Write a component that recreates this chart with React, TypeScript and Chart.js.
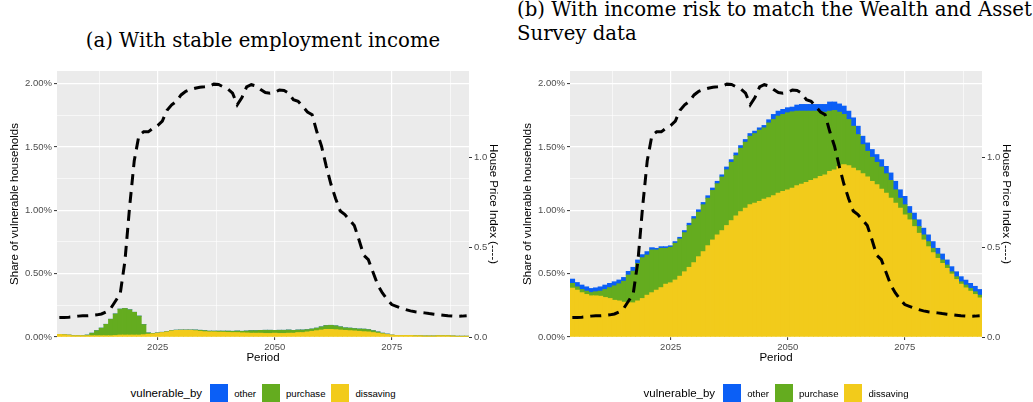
import React, { useEffect, useRef } from 'react';
import { Chart, registerables } from 'chart.js';

Chart.register(...registerables);

// ---------- data ----------
const years = [
  2004, 2005, 2006, 2007, 2008, 2009, 2010, 2011, 2012, 2013, 2014, 2015, 2016, 2017, 2018, 2019, 2020, 2021, 2022, 2023, 2024, 2025,
  2026, 2027, 2028, 2029, 2030, 2031, 2032, 2033, 2034, 2035, 2036, 2037, 2038, 2039, 2040, 2041, 2042, 2043, 2044, 2045, 2046, 2047,
  2048, 2049, 2050, 2051, 2052, 2053, 2054, 2055, 2056, 2057, 2058, 2059, 2060, 2061, 2062, 2063, 2064, 2065, 2066, 2067, 2068, 2069,
  2070, 2071, 2072, 2073, 2074, 2075, 2076, 2077, 2078, 2079, 2080, 2081, 2082, 2083, 2084, 2085, 2086, 2087, 2088, 2089, 2090, 2091,
];

// House price index (secondary axis), same in both panels
const housePriceIndex = [
  0.108, 0.109, 0.110, 0.112, 0.116, 0.118, 0.118, 0.120, 0.123, 0.128, 0.140, 0.160, 0.200, 0.240, 0.420, 0.720, 0.980, 1.120, 1.140, 1.140, 1.160, 1.175,
  1.200, 1.260, 1.290, 1.310, 1.345, 1.365, 1.375, 1.382, 1.388, 1.390, 1.393, 1.405, 1.403, 1.390, 1.378, 1.355, 1.290, 1.330, 1.390, 1.402, 1.395, 1.375,
  1.358, 1.355, 1.360, 1.372, 1.370, 1.355, 1.318, 1.310, 1.280, 1.250, 1.235, 1.140, 1.060, 0.950, 0.850, 0.770, 0.700, 0.680, 0.650, 0.620, 0.540, 0.455,
  0.430, 0.360, 0.290, 0.245, 0.210, 0.180, 0.170, 0.160, 0.152, 0.145, 0.140, 0.137, 0.134, 0.130, 0.127, 0.124, 0.121, 0.118, 0.116, 0.115, 0.116, 0.118,
];

// Panel (a): with stable employment income (share of households, %)
const dissavingA = [
  0.020, 0.018, 0.015, 0.010, 0.010, 0.010, 0.010, 0.010, 0.010, 0.010, 0.010, 0.010, 0.012, 0.015, 0.015, 0.015, 0.015, 0.015, 0.018, 0.022, 0.025, 0.030,
  0.035, 0.040, 0.048, 0.052, 0.053, 0.053, 0.053, 0.050, 0.045, 0.042, 0.040, 0.040, 0.038, 0.038, 0.036, 0.035, 0.035, 0.033, 0.032, 0.030, 0.030, 0.030,
  0.028, 0.028, 0.030, 0.028, 0.028, 0.030, 0.030, 0.035, 0.035, 0.040, 0.045, 0.050, 0.055, 0.060, 0.060, 0.058, 0.055, 0.052, 0.050, 0.048, 0.045, 0.042,
  0.040, 0.035, 0.030, 0.025, 0.020, 0.015, 0.012, 0.012, 0.012, 0.012, 0.010, 0.010, 0.008, 0.008, 0.008, 0.010, 0.010, 0.010, 0.008, 0.006, 0.006, 0.006,
];
const purchaseA = [
  0, 0, 0, 0, 0, 0, 0.005, 0.020, 0.040, 0.060, 0.090, 0.130, 0.170, 0.205, 0.210, 0.200, 0.180, 0.150, 0.080, 0.010, 0.003, 0.002,
  0.002, 0.002, 0.002, 0.002, 0.002, 0.002, 0.002, 0.005, 0.008, 0.008, 0.006, 0.006, 0.008, 0.008, 0.010, 0.010, 0.012, 0.012, 0.015, 0.020, 0.020, 0.022,
  0.025, 0.025, 0.022, 0.025, 0.025, 0.025, 0.022, 0.020, 0.020, 0.018, 0.018, 0.020, 0.025, 0.030, 0.032, 0.030, 0.025, 0.020, 0.020, 0.018, 0.018, 0.020,
  0.018, 0.015, 0.010, 0.005, 0.003, 0, 0, 0, 0, 0, 0, 0, 0, 0, 0, 0, 0, 0, 0, 0, 0, 0,
];
const otherA = [
  0, 0, 0, 0, 0, 0, 0, 0, 0, 0, 0, 0, 0, 0, 0, 0, 0, 0, 0, 0, 0, 0,
  0, 0, 0, 0, 0, 0, 0, 0, 0, 0, 0, 0, 0, 0, 0, 0, 0, 0, 0, 0, 0, 0,
  0, 0, 0, 0, 0, 0, 0, 0, 0, 0, 0, 0, 0, 0, 0, 0, 0, 0, 0, 0, 0, 0,
  0, 0, 0, 0, 0, 0, 0, 0, 0, 0, 0, 0, 0, 0, 0, 0, 0, 0, 0, 0, 0, 0,
];

// Panel (b): with income risk (share of households, %)
const dissavingB = [
  0.386, 0.370, 0.350, 0.336, 0.325, 0.325, 0.322, 0.312, 0.304, 0.290, 0.285, 0.275, 0.270, 0.270, 0.285, 0.304, 0.330, 0.350, 0.370, 0.390, 0.417, 0.428,
  0.450, 0.480, 0.515, 0.550, 0.587, 0.634, 0.674, 0.721, 0.766, 0.806, 0.840, 0.880, 0.919, 0.956, 0.990, 1.017, 1.044, 1.057, 1.070, 1.088, 1.100, 1.115,
  1.136, 1.149, 1.162, 1.176, 1.194, 1.207, 1.220, 1.236, 1.250, 1.268, 1.280, 1.307, 1.320, 1.347, 1.360, 1.353, 1.334, 1.313, 1.289, 1.263, 1.229, 1.202,
  1.168, 1.136, 1.096, 1.057, 1.017, 0.964, 0.925, 0.872, 0.819, 0.766, 0.713, 0.666, 0.621, 0.581, 0.542, 0.497, 0.454, 0.417, 0.388, 0.362, 0.336, 0.309,
];
const purchaseB = [
  0.037, 0.026, 0.025, 0.026, 0.026, 0.032, 0.040, 0.063, 0.086, 0.114, 0.135, 0.165, 0.219, 0.250, 0.295, 0.322, 0.317, 0.337, 0.317, 0.310, 0.283, 0.280,
  0.290, 0.294, 0.309, 0.330, 0.346, 0.351, 0.370, 0.375, 0.391, 0.404, 0.423, 0.440, 0.460, 0.476, 0.500, 0.521, 0.541, 0.549, 0.563, 0.563, 0.590, 0.602,
  0.608, 0.608, 0.608, 0.602, 0.589, 0.576, 0.563, 0.547, 0.533, 0.510, 0.495, 0.476, 0.468, 0.428, 0.397, 0.364, 0.330, 0.285, 0.230, 0.203, 0.190, 0.177,
  0.174, 0.153, 0.140, 0.105, 0.079, 0.080, 0.052, 0.053, 0.053, 0.040, 0.040, 0.034, 0.034, 0.027, 0.026, 0.018, 0.022, 0.019, 0.022, 0.021, 0.021, 0.021,
];
const otherB = [
  0.034, 0.034, 0.035, 0.034, 0.032, 0.031, 0.034, 0.035, 0.033, 0.032, 0.030, 0.030, 0.029, 0.030, 0.028, 0.024, 0.027, 0.018, 0.013, 0.013, 0.013, 0.012,
  0.013, 0.013, 0.016, 0.018, 0.018, 0.019, 0.018, 0.019, 0.019, 0.019, 0.017, 0.022, 0.021, 0.021, 0.021, 0.021, 0.021, 0.019, 0.018, 0.019, 0.025, 0.040,
  0.039, 0.040, 0.040, 0.037, 0.048, 0.053, 0.053, 0.053, 0.053, 0.058, 0.061, 0.072, 0.067, 0.065, 0.066, 0.066, 0.066, 0.066, 0.066, 0.066, 0.061, 0.061,
  0.058, 0.058, 0.059, 0.067, 0.066, 0.066, 0.053, 0.053, 0.053, 0.053, 0.053, 0.053, 0.045, 0.047, 0.040, 0.040, 0.039, 0.040, 0.039, 0.040, 0.043, 0.045,
];

const xTicks = [2012.5, 2025, 2037.5, 2050, 2062.5, 2075, 2087.5];
const xMajor = [2025, 2050, 2075];
const yTicks = [0, 0.25, 0.5, 0.75, 1, 1.25, 1.5, 1.75, 2];
const y2Ticks = [0, 0.5, 1];

const seriesNames = ['other', 'purchase', 'dissaving'];
const COLORS: Record<string, string> = {
  other: '#0B5FF6',
  purchase: '#64AC1F',
  dissaving: '#F2CB1B',
};

const SANS = "'Liberation Sans', Arial, Helvetica, sans-serif";
const SERIF = "'DejaVu Serif', 'Liberation Serif', serif";

const bgPlugin = {
  id: 'panelBg',
  beforeDraw(chart: any) {
    const { ctx, chartArea } = chart;
    if (!chartArea) return;
    ctx.save();
    ctx.fillStyle = '#EBEBEB';
    ctx.fillRect(chartArea.left, chartArea.top, chartArea.right - chartArea.left, chartArea.bottom - chartArea.top);
    ctx.restore();
  },
};

const isMajorY = (v: number) => Math.abs(v * 2 - Math.round(v * 2)) < 1e-6;
const isMajorX = (v: number) => xMajor.some((m) => Math.abs(m - v) < 1e-6);

function Panel(props: { left: number; other: number[]; purchase: number[]; dissaving: number[] }) {
  const ref = useRef<HTMLCanvasElement | null>(null);
  useEffect(() => {
    if (!ref.current) return;
    const pts = (arr: number[]) => years.map((yr, i) => ({ x: yr, y: arr[i] }));
    const barCommon = {
      type: 'bar' as const,
      barPercentage: 1,
      categoryPercentage: 1,
      borderWidth: 0,
      inflateAmount: 0.4,
      order: 1,
      yAxisID: 'y',
    };
    const chart = new Chart(ref.current, {
      type: 'bar',
      data: {
        datasets: [
          { ...barCommon, label: 'dissaving', data: pts(props.dissaving), backgroundColor: COLORS.dissaving },
          { ...barCommon, label: 'purchase', data: pts(props.purchase), backgroundColor: COLORS.purchase },
          { ...barCommon, label: 'other', data: pts(props.other), backgroundColor: COLORS.other },
          {
            type: 'line' as const,
            label: 'House Price Index',
            data: pts(housePriceIndex),
            yAxisID: 'y2',
            borderColor: '#000000',
            borderWidth: 3,
            borderDash: [11, 7],
            borderCapStyle: 'butt',
            pointRadius: 0,
            tension: 0,
            fill: false,
            order: 0,
          } as any,
        ],
      },
      options: {
        animation: false,
        responsive: false,
        maintainAspectRatio: false,
        layout: { padding: { top: 11, left: 0, right: 0, bottom: 0 } },
        plugins: { legend: { display: false }, tooltip: { enabled: false } },
        scales: {
          x: {
            type: 'linear',
            min: 2003.5,
            max: 2091.5,
            bounds: 'data',
            stacked: true,
            offset: false,
            afterBuildTicks: (s: any) => {
              s.ticks = xTicks.map((v) => ({ value: v }));
            },
            afterFit: (s: any) => {
              s.height = 35;
            },
            border: { display: false },
            grid: {
              offset: false,
              color: '#FFFFFF',
              lineWidth: (c: any) => (c.tick && isMajorX(c.tick.value) ? 1.2 : 0.6),
              drawTicks: true,
              tickLength: 3,
              tickWidth: 1,
              tickColor: (c: any) => (c.tick && isMajorX(c.tick.value) ? '#333333' : 'rgba(0,0,0,0)'),
            },
            ticks: {
              autoSkip: false,
              maxRotation: 0,
              padding: 2,
              color: '#4D4D4D',
              font: { family: SANS, size: 9.5 },
              callback: (v: any) => (isMajorX(Number(v)) ? String(v) : ''),
            },
            title: {
              display: true,
              text: 'Period',
              color: '#000000',
              font: { family: SANS, size: 11.5 },
              padding: { top: 0, bottom: 7 },
            },
          },
          y: {
            type: 'linear',
            position: 'left',
            stacked: true,
            min: 0,
            max: 2.1,
            afterBuildTicks: (s: any) => {
              s.ticks = yTicks.map((v) => ({ value: v }));
            },
            afterFit: (s: any) => {
              s.width = 57;
            },
            border: { display: false },
            grid: {
              color: '#FFFFFF',
              lineWidth: (c: any) => (c.tick && isMajorY(c.tick.value) ? 1.2 : 0.6),
              drawTicks: true,
              tickLength: 3,
              tickWidth: 1,
              tickColor: (c: any) => (c.tick && isMajorY(c.tick.value) ? '#333333' : 'rgba(0,0,0,0)'),
            },
            ticks: {
              autoSkip: false,
              padding: 2,
              color: '#4D4D4D',
              font: { family: SANS, size: 9.5 },
              callback: (v: any) => (isMajorY(Number(v)) ? Number(v).toFixed(2) + '%' : ''),
            },
            title: {
              display: true,
              text: 'Share of vulnerable households',
              color: '#000000',
              font: { family: SANS, size: 11.5 },
              padding: { top: 8, bottom: 0 },
            },
          },
          y2: {
            type: 'linear',
            position: 'right',
            min: 0,
            max: 1.478,
            afterBuildTicks: (s: any) => {
              s.ticks = y2Ticks.map((v) => ({ value: v }));
            },
            afterFit: (s: any) => {
              s.width = 47;
            },
            border: { display: false },
            grid: {
              drawOnChartArea: false,
              drawTicks: true,
              tickLength: 3,
              tickWidth: 1,
              tickColor: '#333333',
            },
            ticks: {
              autoSkip: false,
              padding: 2,
              color: '#4D4D4D',
              font: { family: SANS, size: 9.5 },
              callback: (v: any) => Number(v).toFixed(1),
            },
            title: {
              display: true,
              text: 'House Price Index (----)',
              color: '#000000',
              font: { family: SANS, size: 11.5 },
              padding: { top: 16, bottom: 0 },
            },
          },
        },
      } as any,
      plugins: [bgPlugin],
    });
    return () => chart.destroy();
  }, []);
  return (
    <canvas
      ref={ref}
      width={516}
      height={312}
      style={{ position: 'absolute', left: props.left, top: 60, width: 516, height: 312 }}
    />
  );
}

function Legend(props: { left: number }) {
  return (
    <div
      style={{
        position: 'absolute',
        left: props.left,
        width: 412,
        top: 384,
        height: 18,
        display: 'flex',
        justifyContent: 'center',
        alignItems: 'center',
        fontFamily: SANS,
        whiteSpace: 'nowrap',
      }}
    >
      <span style={{ fontSize: 11.5, color: '#000', marginRight: 8 }}>vulnerable_by</span>
      {seriesNames.map((n, i) => (
        <React.Fragment key={n}>
          <span style={{ width: 18, height: 18, background: COLORS[n], display: 'inline-block', marginRight: 6 }} />
          <span style={{ fontSize: 9.6, color: '#000', marginRight: i < seriesNames.length - 1 ? 6 : 0 }}>{n}</span>
        </React.Fragment>
      ))}
    </div>
  );
}

export default function App() {
  useEffect(() => {
    document.body.style.margin = '0';
  }, []);
  const titleStyle: React.CSSProperties = {
    position: 'absolute',
    fontFamily: SERIF,
    fontSize: 19.7,
    lineHeight: '24px',
    color: '#000',
    whiteSpace: 'nowrap',
  };
  return (
    <div style={{ position: 'absolute', left: 0, top: 0, width: 1033, height: 402, background: '#FFFFFF', overflow: 'hidden' }}>
      <div style={{ ...titleStyle, left: 57, width: 412, top: 29, textAlign: 'center' }}>(a) With stable employment income</div>
      <div style={{ ...titleStyle, left: 517, top: -2, textAlign: 'left' }}>
        (b) With income risk to match the Wealth and Asset
        <br />
        Survey data
      </div>
      <Panel left={0} other={otherA} purchase={purchaseA} dissaving={dissavingA} />
      <Panel left={513} other={otherB} purchase={purchaseB} dissaving={dissavingB} />
      <Legend left={57} />
      <Legend left={570} />
    </div>
  );
}
